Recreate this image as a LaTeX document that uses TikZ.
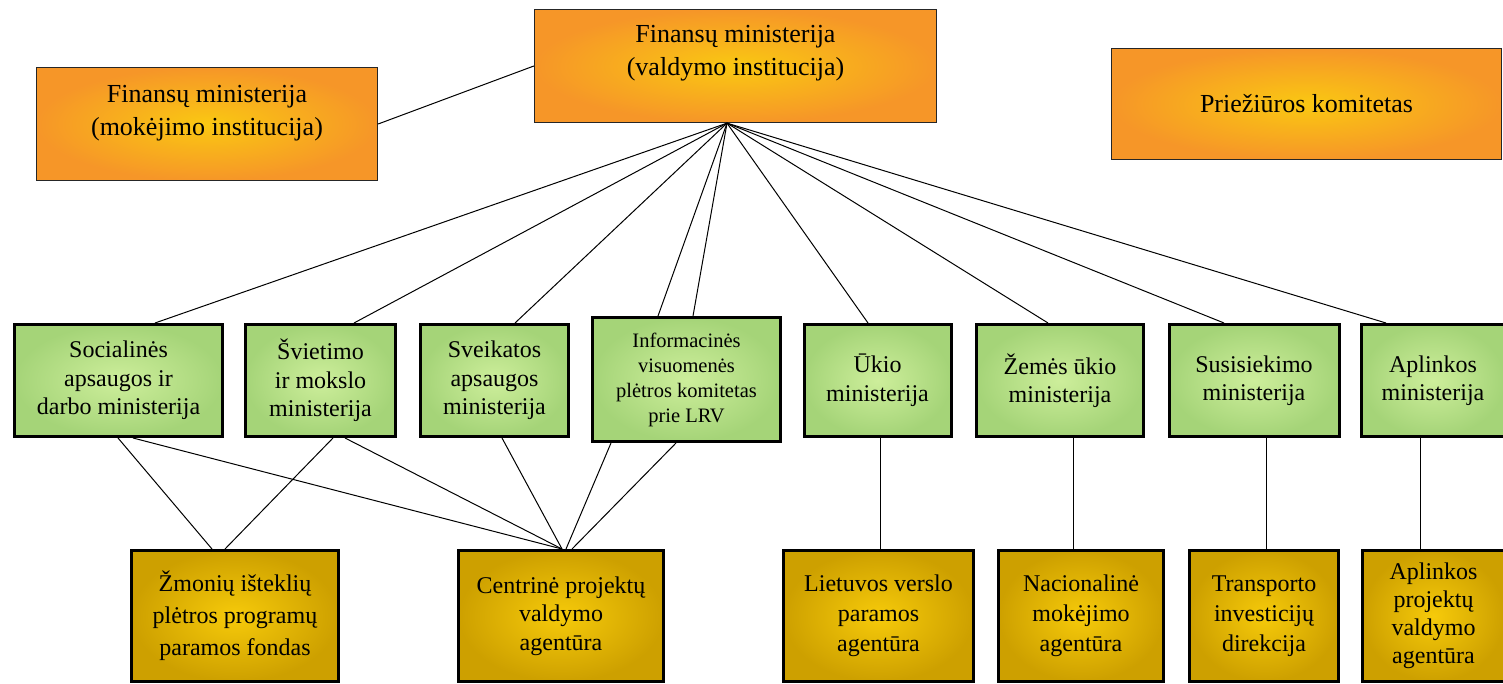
\documentclass[tikz,border=0pt]{standalone}
\usepackage{fontspec}
\setmainfont{Liberation Serif}
\definecolor{oouter}{RGB}{246,150,40}
\definecolor{oinner}{RGB}{250,200,18}
\definecolor{gouter}{RGB}{165,212,120}
\definecolor{ginner}{RGB}{205,238,155}
\definecolor{youter}{RGB}{205,160,0}
\definecolor{yinner}{RGB}{246,202,10}
\begin{document}
\begin{tikzpicture}[x=1pt,y=-1pt,
  box/.style={rectangle, align=center, inner sep=0pt, text=black},
  obox/.style={box, draw=black!85, line width=1.3pt, inner color=oinner, outer color=oouter},
  otext/.style={align=center, inner sep=0pt, font=\fontsize{26}{33}\selectfont},
  gbox/.style={box, draw=black, line width=3pt, inner color=ginner, outer color=gouter, font=\fontsize{24}{28.5}\selectfont},
  ybox/.style={box, draw=black, line width=3pt, inner color=yinner, outer color=youter, font=\fontsize{24}{30}\selectfont},
  link/.style={draw=black, line width=1pt}]
\useasboundingbox (0,0) rectangle (1503,684);
\clip (0,0) rectangle (1503,684);
\fill[white] (0,0) rectangle (1503,684);

% top boxes
\node[obox, minimum width=341pt, minimum height=113pt] (fm) at (207,124) {};
\node[otext] (fmt) at ([yshift=11pt]fm.center) {Finansų ministerija\\(mokėjimo institucija)};
\node[obox, minimum width=402pt, minimum height=113pt] (fv) at (735.5,66) {};
\node[otext] (fvt) at ([yshift=12.5pt]fv.center) {Finansų ministerija\\(valdymo institucija)};
\node[obox, minimum width=390pt, minimum height=111pt, font=\fontsize{26}{33}\selectfont] (pk) at (1306.5,104) {Priežiūros komitetas};

% ministries
\node[gbox, minimum width=208pt, minimum height=112pt] (g1) at (118.5,380.5) {Socialinės\\apsaugos ir\\darbo ministerija};
\node[gbox, minimum width=150pt, minimum height=112pt] (g2) at (320.5,380.5) {Švietimo\\ir mokslo\\ministerija};
\node[gbox, minimum width=148pt, minimum height=112pt] (g3) at (494.5,380.5) {Sveikatos\\apsaugos\\ministerija};
\node[gbox, minimum width=188pt, minimum height=124pt, font=\fontsize{20.5}{25}\selectfont] (g4) at (686.5,379.5) {Informacinės\\visuomenės\\plėtros komitetas\\prie LRV};
\node[gbox, minimum width=147pt, minimum height=112pt] (g5) at (877.5,380.5) {Ūkio\\ministerija};
\node[gbox, minimum width=167pt, minimum height=112pt] (g6) at (1060,380.5) {Žemės ūkio\\ministerija};
\node[gbox, minimum width=170pt, minimum height=112pt] (g7) at (1254,380.5) {Susisiekimo\\ministerija};
\node[gbox, minimum width=143pt, minimum height=112pt] (g8) at (1433,380.5) {Aplinkos\\ministerija};

% agencies
\node[ybox, minimum width=207pt, minimum height=131pt, font=\fontsize{24}{32}\selectfont] (b1) at (235,616) {Žmonių išteklių\\plėtros programų\\paramos fondas};
\node[ybox, minimum width=205pt, minimum height=131pt, font=\fontsize{24}{28.5}\selectfont] (b2) at (561,616) {Centrinė projektų\\valdymo\\agentūra};
\node[ybox, minimum width=190pt, minimum height=131pt] (b3) at (878.5,616) {Lietuvos verslo\\paramos\\agentūra};
\node[ybox, minimum width=165pt, minimum height=131pt] (b4) at (1081,616) {Nacionalinė\\mokėjimo\\agentūra};
\node[ybox, minimum width=149pt, minimum height=131pt] (b5) at (1264,616) {Transporto\\investicijų\\direkcija};
\node[ybox, minimum width=142pt, minimum height=131pt, font=\fontsize{24}{28}\selectfont] (b6) at (1433.5,616) {Aplinkos\\projektų\\valdymo\\agentūra};

% connectors
\draw[link] (fm.east) -- (fv.west);
\coordinate (hub) at ([xshift=-8.5pt]fv.south);
\draw[link] (hub) -- ([xshift=36.5pt]g1.north);
\draw[link] (hub) -- ([xshift=33.5pt]g2.north);
\draw[link] (hub) -- ([xshift=20.5pt]g3.north);
\draw[link] (hub) -- ([xshift=-28.5pt]g4.north);
\draw[link] (hub) -- ([xshift=6.5pt]g4.north);
\draw[link] (hub) -- ([xshift=-9.5pt]g5.north);
\draw[link] (hub) -- ([xshift=-12pt]g6.north);
\draw[link] (hub) -- ([xshift=-30pt]g7.north);
\draw[link] (hub) -- ([xshift=-47pt]g8.north);

\draw[link] ([xshift=-0.5pt]g1.south) -- ([xshift=-23pt]b1.north);
\draw[link] ([xshift=12.5pt]g2.south) -- ([xshift=-10pt]b1.north);
\draw[link] ([xshift=14.5pt]g1.south) -- ([xshift=1pt]b2.north);
\draw[link] ([xshift=24.5pt]g2.south) -- ([xshift=1pt]b2.north);
\draw[link] ([xshift=7.5pt]g3.south) -- ([xshift=1pt]b2.north);
\draw[link] ([xshift=-75.5pt]g4.south) -- ([xshift=5pt]b2.north);
\draw[link] ([xshift=-10.5pt]g4.south) -- ([xshift=11pt]b2.north);

\draw[link] ([xshift=2.5pt]g5.south) -- ([xshift=2.5pt]g5.south |- b3.north);
\draw[link] ([xshift=13pt]g6.south) -- ([xshift=13pt]g6.south |- b4.north);
\draw[link] ([xshift=12pt]g7.south) -- ([xshift=12pt]g7.south |- b5.north);
\draw[link] ([xshift=-13pt]g8.south) -- ([xshift=-13pt]g8.south |- b6.north);
\end{tikzpicture}
\end{document}
